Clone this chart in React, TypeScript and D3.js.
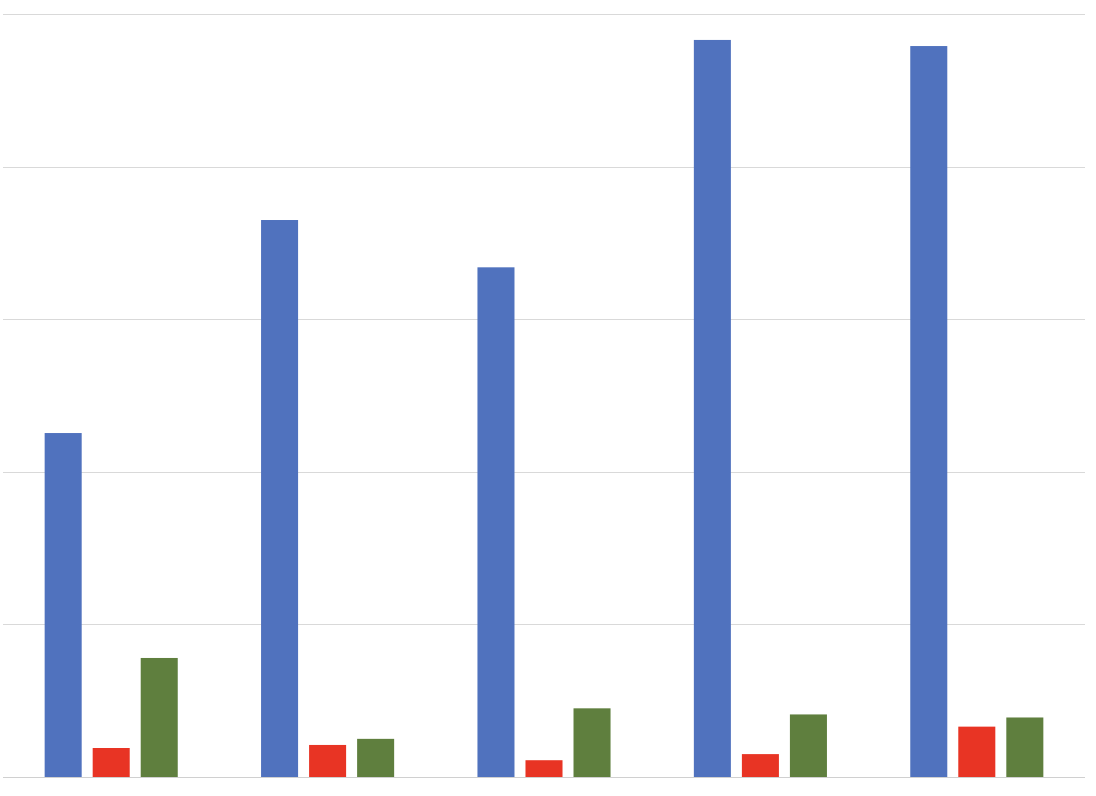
import React from "react";
import * as d3 from "d3";

const categories = ["A", "B", "C", "D", "E"];
const seriesNames = ["Blue", "Red", "Green"];
const blueValues = [2.254, 3.65, 3.34, 4.83, 4.79];
const redValues = [0.19, 0.21, 0.11, 0.15, 0.33];
const greenValues = [0.78, 0.25, 0.45, 0.41, 0.39];
const yTicks = [0, 1, 2, 3, 4, 5];

const colors = ["#5072BE", "#E83424", "#5F7F3E"];

export default function App() {
  const width = 1096;
  const height = 796;
  const x = d3.scaleBand<string>().domain(categories).range([3, 1085]).paddingInner(0.385).paddingOuter(0.1925);
  const xInner = d3.scaleBand<string>().domain(seriesNames).range([0, x.bandwidth()]).paddingInner(0.229).paddingOuter(0);
  const y = d3.scaleLinear().domain([0, 5]).range([777, 14]);
  const series = [blueValues, redValues, greenValues];

  return (
    <svg width={width} height={height} style={{ position: "absolute", left: 0, top: 0, display: "block", background: "#fff" }}>
      {yTicks.map((t) => (
        <line key={t} x1={3} x2={1085} y1={Math.round(y(t)) + 0.5} y2={Math.round(y(t)) + 0.5} stroke={t === 0 ? "#d0d0d0" : "#d9d9d9"} strokeWidth={1} />
      ))}
      {categories.map((c, i) => (
        <g key={c} transform={`translate(${x(c)},0)`}>
          {seriesNames.map((s, j) => (
            <rect key={s} x={xInner(s)} width={xInner.bandwidth()} y={y(series[j][i])} height={y(0) - y(series[j][i])} fill={colors[j]} />
          ))}
        </g>
      ))}
    </svg>
  );
}
